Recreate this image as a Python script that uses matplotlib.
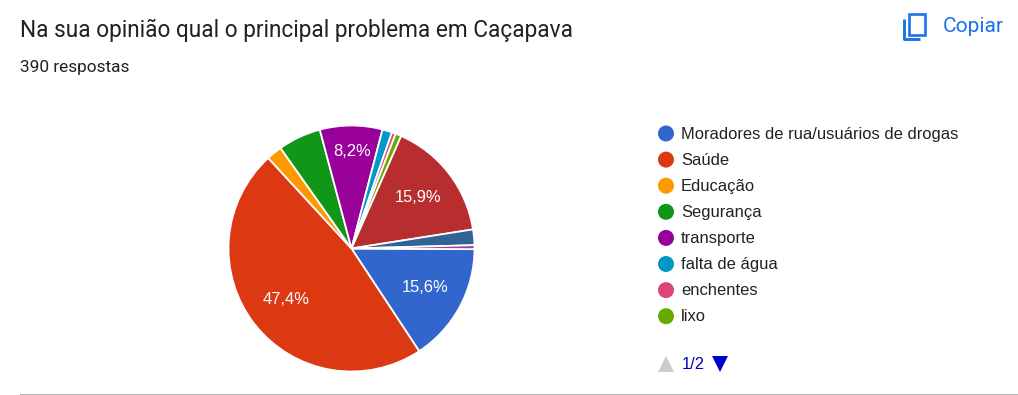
import matplotlib
matplotlib.use("Agg")
import matplotlib.pyplot as plt
import numpy as np
from matplotlib.patches import Circle, Polygon

W, H = 1018, 395

# counts out of 390 responses
labels = ["Moradores de rua/usuários de drogas", "Saúde", "Educação", "Segurança",
          "transporte", "falta de água", "enchentes", "lixo"]
counts = [61, 185, 8, 22, 32, 5, 2, 3, 62, 8, 2]
colors = ["#3366cc", "#dc3912", "#ff9900", "#109618", "#990099", "#0099c6",
          "#dd4477", "#66aa00", "#b82e2e", "#316395", "#994499"]
title = "Na sua opinião qual o principal problema em Caçapava"
subtitle = "390 respostas"
page = "1/2"
copy_label = "Copiar"

BLUE = "#1a73e8"
TEXT = "#202124"


def px(v):
    return v * 72 / 100


def Y(y):
    return H - y


fig = plt.figure(figsize=(W / 100, H / 100), dpi=100)
ax = fig.add_axes([0, 0, 1, 1])

wedges, _ = ax.pie(counts, colors=colors, startangle=-0.3, counterclock=False,
                   center=(351.5, Y(248.5)), radius=123, frame=True,
                   wedgeprops={"edgecolor": "white", "linewidth": 1.3})
ax.set_xlim(0, W)
ax.set_ylim(0, H)
ax.set_aspect("equal")
ax.axis("off")

# percent labels only on the big slices
total = sum(counts)
for w, c in zip(wedges, counts):
    share = 100 * c / total
    if share < 8:
        continue
    mid = np.radians((w.theta1 + w.theta2) / 2)
    r = 97 if share < 10 else 83
    txt = f"{share:.1f}%".replace(".", ",")
    ax.text(352 + r * np.cos(mid), Y(248) + r * np.sin(mid), txt, color="white",
            ha="center", va="center", family="Liberation Sans", fontsize=px(16.5))

ax.text(20, Y(30.5), title, family="Roboto", fontsize=px(22.6), color=TEXT,
        ha="left", va="center")
ax.text(20, Y(67.5), subtitle, family="Roboto", fontsize=px(17.2), color=TEXT,
        ha="left", va="center")

# legend
for i, name in enumerate(labels):
    y = Y(133.5 + 26.1 * i)
    ax.add_patch(Circle((666, y), 8, color=colors[i], lw=0))
    ax.text(681, y - 0.5, name, family="Liberation Sans", fontsize=px(16.5), color="#222222",
            ha="left", va="center")

# legend pager
ax.add_patch(Polygon([(658, Y(372)), (674, Y(372)), (666, Y(356))], color="#cccccc", lw=0))
ax.text(682, Y(364.5), page, family="Liberation Sans", fontsize=px(16.5), color="#0000cc",
        ha="left", va="center")
ax.add_patch(Polygon([(712, Y(356)), (728, Y(356)), (720, Y(372))], color="#0000cc", lw=0))

# copy icon
ax.add_patch(plt.Rectangle((909, Y(35)), 16, 21, fill=False, ec=BLUE, lw=1.9))
ax.plot([904.5, 904.5, 920], [Y(19), Y(39), Y(39)], color=BLUE, lw=2.1,
        solid_capstyle="butt", solid_joinstyle="round")
ax.text(943, Y(26.5), copy_label, family="Roboto", fontsize=px(21),
        color=BLUE, ha="left", va="center")

# bottom rule
ax.add_patch(plt.Rectangle((20, 0), W - 20, 1, color="#b0b0b0", lw=0))

fig.savefig("out.png", dpi=100, facecolor="white")
